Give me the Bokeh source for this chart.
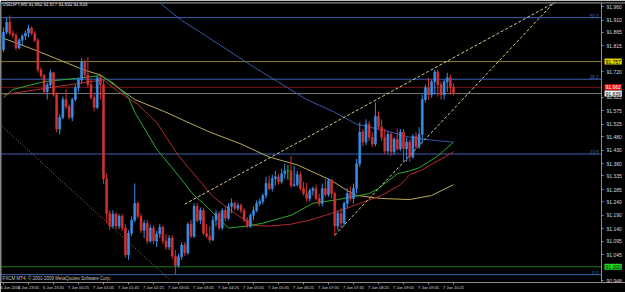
from bokeh.plotting import figure
from bokeh.models import (ColumnDataSource, Range1d, LinearAxis, FixedTicker, Span,
                          Label, PrintfTickFormatter, BoxAnnotation)
from bokeh.embed import file_html
from bokeh.resources import INLINE

# ---------------- data ----------------
chart_title = "USDJPY,M5  91.662 91.677 91.632 91.639"
copyright_text = "FXCM MT4, \u00a9 2001-2009 MetaQuotes Software Corp."

opens = [91.800, 91.865, 91.902, 91.862, 91.854, 91.807, 91.836, 91.851, 91.862, 91.880,
         91.862, 91.836, 91.727, 91.705, 91.646, 91.672, 91.716, 91.635, 91.508, 91.551,
         91.617, 91.591, 91.551, 91.617, 91.661, 91.690, 91.756, 91.708, 91.672, 91.624,
         91.588, 91.697, 91.672, 91.325, 91.197, 91.150, 91.194, 91.150, 91.186, 91.143,
         91.044, 91.124, 91.172, 91.234, 91.186, 91.135, 91.161, 91.095, 91.143, 91.095,
         91.121, 91.146, 91.095, 91.073, 91.106, 91.040, 91.004, 91.037, 91.080, 91.051,
         91.157, 91.113, 91.223, 91.172, 91.208, 91.124, 91.113, 91.099, 91.172, 91.197,
         91.143, 91.208, 91.179, 91.223, 91.234, 91.216, 91.226, 91.208, 91.172, 91.150,
         91.190, 91.208, 91.234, 91.241, 91.263, 91.307, 91.289, 91.325, 91.332, 91.314,
         91.343, 91.354, 91.354, 91.299, 91.303, 91.340, 91.289, 91.270, 91.252, 91.281,
         91.289, 91.252, 91.234, 91.289, 91.267, 91.318, 91.270, 91.150, 91.197, 91.161,
         91.234, 91.270, 91.252, 91.289, 91.380, 91.497, 91.460, 91.526, 91.478, 91.453,
         91.555, 91.515, 91.478, 91.427, 91.489, 91.424, 91.471, 91.435, 91.497, 91.435,
         91.460, 91.405, 91.482, 91.445, 91.489, 91.617, 91.661, 91.635, 91.683, 91.719,
         91.672, 91.635, 91.683, 91.697, 91.662]

highs = [91.883, 91.920, 91.927, 91.872, 91.862, 91.843, 91.858, 91.872, 91.891, 91.887,
         91.869, 91.843, 91.737, 91.712, 91.679, 91.727, 91.719, 91.643, 91.562, 91.628,
         91.654, 91.599, 91.624, 91.672, 91.697, 91.770, 91.763, 91.774, 91.690, 91.635,
         91.705, 91.705, 91.690, 91.343, 91.208, 91.208, 91.201, 91.194, 91.194, 91.157,
         91.135, 91.186, 91.307, 91.241, 91.197, 91.172, 91.172, 91.153, 91.153, 91.132,
         91.157, 91.153, 91.121, 91.117, 91.117, 91.062, 91.048, 91.091, 91.091, 91.164,
         91.172, 91.234, 91.234, 91.219, 91.216, 91.157, 91.150, 91.186, 91.208, 91.205,
         91.216, 91.223, 91.234, 91.252, 91.241, 91.237, 91.234, 91.216, 91.183, 91.197,
         91.223, 91.245, 91.252, 91.270, 91.332, 91.336, 91.340, 91.354, 91.343, 91.362,
         91.380, 91.376, 91.409, 91.372, 91.354, 91.351, 91.314, 91.310, 91.289, 91.296,
         91.303, 91.270, 91.307, 91.325, 91.325, 91.325, 91.278, 91.208, 91.216, 91.241,
         91.289, 91.296, 91.307, 91.398, 91.533, 91.508, 91.544, 91.537, 91.497, 91.606,
         91.573, 91.544, 91.508, 91.500, 91.497, 91.478, 91.508, 91.508, 91.508, 91.478,
         91.471, 91.489, 91.497, 91.515, 91.635, 91.672, 91.697, 91.690, 91.727, 91.727,
         91.683, 91.690, 91.716, 91.708, 91.677]

lows = [91.792, 91.858, 91.854, 91.843, 91.800, 91.803, 91.818, 91.836, 91.847, 91.854,
        91.829, 91.716, 91.697, 91.639, 91.617, 91.661, 91.628, 91.497, 91.489, 91.544,
        91.581, 91.544, 91.537, 91.610, 91.646, 91.675, 91.697, 91.661, 91.617, 91.573,
        91.581, 91.617, 91.307, 91.161, 91.135, 91.143, 91.139, 91.139, 91.132, 91.033,
        91.026, 91.113, 91.164, 91.179, 91.124, 91.106, 91.084, 91.088, 91.084, 91.073,
        91.106, 91.084, 91.062, 91.062, 91.029, 90.971, 90.997, 91.026, 91.040, 91.044,
        91.106, 91.106, 91.164, 91.157, 91.117, 91.106, 91.088, 91.095, 91.150, 91.135,
        91.135, 91.168, 91.172, 91.197, 91.208, 91.208, 91.197, 91.164, 91.143, 91.143,
        91.172, 91.201, 91.223, 91.230, 91.252, 91.281, 91.278, 91.299, 91.303, 91.307,
        91.325, 91.321, 91.292, 91.296, 91.296, 91.281, 91.263, 91.241, 91.241, 91.263,
        91.245, 91.223, 91.223, 91.259, 91.259, 91.252, 91.113, 91.135, 91.143, 91.150,
        91.216, 91.241, 91.234, 91.270, 91.369, 91.445, 91.449, 91.464, 91.442, 91.445,
        91.504, 91.464, 91.416, 91.416, 91.409, 91.413, 91.427, 91.427, 91.387, 91.387,
        91.387, 91.398, 91.435, 91.435, 91.460, 91.606, 91.617, 91.624, 91.635, 91.628,
        91.617, 91.617, 91.646, 91.635, 91.632]

closes = [91.865, 91.902, 91.862, 91.854, 91.807, 91.836, 91.851, 91.862, 91.880, 91.862,
          91.836, 91.727, 91.705, 91.646, 91.672, 91.716, 91.635, 91.508, 91.551, 91.617,
          91.591, 91.551, 91.617, 91.661, 91.690, 91.756, 91.708, 91.672, 91.624, 91.588,
          91.697, 91.672, 91.325, 91.197, 91.150, 91.194, 91.150, 91.186, 91.143, 91.044,
          91.124, 91.172, 91.234, 91.186, 91.135, 91.161, 91.095, 91.143, 91.095, 91.121,
          91.146, 91.095, 91.073, 91.106, 91.040, 91.004, 91.037, 91.080, 91.051, 91.157,
          91.113, 91.223, 91.172, 91.208, 91.124, 91.113, 91.099, 91.172, 91.197, 91.143,
          91.208, 91.179, 91.223, 91.234, 91.216, 91.226, 91.208, 91.172, 91.150, 91.190,
          91.208, 91.234, 91.241, 91.263, 91.307, 91.289, 91.325, 91.332, 91.314, 91.343,
          91.354, 91.354, 91.299, 91.303, 91.340, 91.289, 91.270, 91.252, 91.281, 91.289,
          91.252, 91.234, 91.289, 91.267, 91.318, 91.270, 91.150, 91.197, 91.161, 91.234,
          91.270, 91.252, 91.289, 91.380, 91.497, 91.460, 91.526, 91.478, 91.453, 91.555,
          91.515, 91.478, 91.427, 91.489, 91.424, 91.471, 91.435, 91.497, 91.435, 91.460,
          91.405, 91.482, 91.445, 91.489, 91.617, 91.661, 91.635, 91.683, 91.719, 91.672,
          91.635, 91.683, 91.697, 91.662, 91.639]

# moving averages (bar index, price)
ma_green_x = [0, 3, 13, 25, 31, 35, 40, 42, 49, 56, 61, 64, 72, 78, 83, 92, 99, 107, 112, 117,
              120, 126, 130, 133, 139, 144]
ma_green_y = [91.624, 91.654, 91.683, 91.697, 91.705, 91.679, 91.624, 91.570, 91.435, 91.336,
              91.263, 91.234, 91.143, 91.150, 91.161, 91.190, 91.234, 91.248, 91.259, 91.270,
              91.289, 91.343, 91.354, 91.365, 91.409, 91.460]
ma_red_x = [0, 19, 32, 35, 39, 43, 49, 56, 63, 67, 74, 80, 85, 92, 98, 105, 110, 114, 121, 127,
            130, 134, 144]
ma_red_y = [91.635, 91.668, 91.690, 91.661, 91.628, 91.599, 91.533, 91.409, 91.314, 91.259,
            91.197, 91.153, 91.150, 91.157, 91.172, 91.197, 91.216, 91.234, 91.263, 91.303,
            91.340, 91.358, 91.424]
ma_yellow_x = [0, 10, 26, 31, 42, 52, 59, 66, 76, 85, 94, 105, 110, 113, 121, 130, 137, 144]
ma_yellow_y = [91.843, 91.800, 91.725, 91.708, 91.617, 91.570, 91.533, 91.497, 91.453, 91.405,
               91.376, 91.318, 91.281, 91.263, 91.252, 91.248, 91.263, 91.303]
ma_blue_x = [48, 51, 57, 63, 79, 97, 106, 113, 123, 130, 137, 144]
ma_blue_y = [91.993, 91.964, 91.909, 91.865, 91.745, 91.617, 91.570, 91.526, 91.500, 91.478,
             91.467, 91.460]

# trend lines (anchor bars and prices)
trend_a_x = [58, 178]
trend_a_y = [91.231, 91.985]
trend_b_x = [106, 177]
trend_b_y = [91.117, 91.985]
trend_c_x = [-1, 53]
trend_c_y = [91.524, 90.954]

# fibonacci levels
fib_levels = [90.971, 91.416, 91.692, 91.919]
fib_names = ["0.0", "23.6", "38.2", "50.0"]

# horizontal price lines with highlighted labels
hline_levels = [91.757, 91.662, 91.639, 91.000]
hline_texts = ["91.757", "91.662", "91.639", "91.000"]

# axes
time_ticks = [0, 8, 16, 24, 32, 40, 48, 56, 64, 72, 80, 88, 96, 104, 112, 120, 128, 136, 144]
time_labels = ["6 Jun 2010", "6 Jun 23:05", "6 Jun 23:45", "7 Jun 00:25", "7 Jun 01:05",
               "7 Jun 01:45", "7 Jun 02:25", "7 Jun 03:05", "7 Jun 03:45", "7 Jun 04:25",
               "7 Jun 05:05", "7 Jun 05:45", "7 Jun 06:25", "7 Jun 07:05", "7 Jun 07:45",
               "7 Jun 08:25", "7 Jun 09:05", "7 Jun 09:45", "7 Jun 10:25"]
price_ticks = [91.960, 91.910, 91.865, 91.815, 91.720, 91.625, 91.575, 91.525, 91.480, 91.430,
               91.380, 91.335, 91.285, 91.240, 91.190, 91.140, 91.095, 91.045, 90.948]

# ---------------- styling ----------------
UP = "#3a8ee6"
DOWN = "#d23232"
DOJI = "#2fd22f"
AXIS = "#8c8c8c"
FIB = "#3b62b5"
hline_colors = ["#8e7d2c", "#7a1414", "#7a7a7a", "#1f7a1f"]
hlabel_bg = ["#e6cf00", "#e01010", "#f0f0f0", "#22dd22"]
hlabel_fg = ["#000000", "#ffffff", "#000000", "#000000"]
FONT = "Liberation Sans"

W, H = 625, 292
X0, X1 = -0.96, 199.04          # bar spacing of about 3.1 px over the full width
AXIS_X = 191.36                 # where the price scale sits
p = figure(width=W, height=H, output_backend="svg", toolbar_location=None,
           x_range=Range1d(X0, X1), y_range=Range1d(90.942, 91.975),
           min_border_left=0, min_border_right=0, min_border_top=2, min_border_bottom=7,
           x_axis_location=None, y_axis_location=None,
           background_fill_color="black", border_fill_color="black")
p.grid.visible = False
p.outline_line_color = None

xaxis = LinearAxis(ticker=FixedTicker(ticks=time_ticks),
                   major_label_overrides={t: s for t, s in zip(time_ticks, time_labels)})
yaxis = LinearAxis(ticker=FixedTicker(ticks=price_ticks), fixed_location=AXIS_X,
                   formatter=PrintfTickFormatter(format="%.3f"))
for ax in (xaxis, yaxis):
    ax.axis_line_color = AXIS
    ax.major_tick_line_color = AXIS
    ax.minor_tick_line_color = None
    ax.major_tick_in = 0
    ax.major_tick_out = 2
    ax.major_label_text_color = "#d8d8d8"
    ax.major_label_text_font = FONT
xaxis.major_label_text_font_size = "4px"
xaxis.major_label_standoff = 0
xaxis.major_label_text_align = "left"
yaxis.major_label_text_font_size = "5px"
yaxis.major_label_standoff = 3
p.add_layout(xaxis, "below")
p.add_layout(yaxis, "right")

# horizontal lines (under the price-scale mask)
for lvl in fib_levels:
    p.add_layout(Span(location=lvl, dimension="width", line_color=FIB, line_width=1,
                      level="underlay"))
for lvl, col in zip(hline_levels, hline_colors):
    p.add_layout(Span(location=lvl, dimension="width", line_color=col, line_width=1,
                      level="underlay"))
p.add_layout(BoxAnnotation(left=AXIS_X, fill_color="black", fill_alpha=1.0,
                           line_color=None, level="underlay"))
# frame edges (top and left)
p.add_layout(Span(location=91.975, dimension="width", line_color=AXIS, line_width=2,
                  level="underlay"))
p.add_layout(Span(location=X0, dimension="height", line_color=AXIS, line_width=2,
                  level="underlay"))

# moving averages
p.line(ma_blue_x, ma_blue_y, line_color="#3558a8", line_width=1)
p.line(ma_yellow_x, ma_yellow_y, line_color="#b9ab5a", line_width=1)
p.line(ma_red_x, ma_red_y, line_color="#b42a2a", line_width=1)
p.line(ma_green_x, ma_green_y, line_color="#2eaa2e", line_width=1)

# trend lines
p.line(trend_a_x, trend_a_y, line_color="#d4cc8a", line_width=1, line_dash="3 2")
p.line(trend_b_x, trend_b_y, line_color="#d4cc8a", line_width=1, line_dash="3 2")
p.line(trend_c_x, trend_c_y, line_color="#a87a64", line_width=1, line_dash="1 2")

# candles
n = len(closes)
cols = [UP if c > o else (DOWN if c < o else DOJI) for o, c in zip(opens, closes)]
src = ColumnDataSource(dict(
    x=list(range(n)), hi=highs, lo=lows,
    top=[max(o, c) for o, c in zip(opens, closes)],
    bot=[min(o, c) for o, c in zip(opens, closes)],
    col=cols))
p.segment(x0="x", y0="lo", x1="x", y1="hi", line_color="col", line_width=1, source=src)
p.vbar(x="x", top="top", bottom="bot", width=0.62, fill_color="col", line_color="col",
       line_width=0.6, source=src)

# fibonacci level names
for lvl, name in zip(fib_levels, fib_names):
    p.add_layout(Label(x=598, x_units="screen", y=lvl, text=name, text_font=FONT,
                       text_font_size="4.5px", text_color=FIB, text_align="right",
                       text_baseline="bottom"))

# highlighted price labels on the price scale
for lvl, txt, bg, fg in zip(hline_levels, hline_texts, hlabel_bg, hlabel_fg):
    p.add_layout(Label(x=604, x_units="screen", y=lvl, text=txt, text_font=FONT,
                       text_font_size="5px", text_color=fg, text_align="left",
                       text_baseline="middle", background_fill_color=bg, padding=1))

# texts
p.add_layout(Label(x=2, y=281, x_units="screen", y_units="screen", text=chart_title,
                   text_font=FONT, text_font_size="4.5px", text_color="#e8e8e8",
                   text_baseline="top"))
p.add_layout(Label(x=2, y=2, x_units="screen", y_units="screen", text=copyright_text,
                   text_font=FONT, text_font_size="4.5px", text_color="#c8c8c8",
                   text_baseline="bottom"))

open("out.html", "w").write(file_html(p, INLINE))
